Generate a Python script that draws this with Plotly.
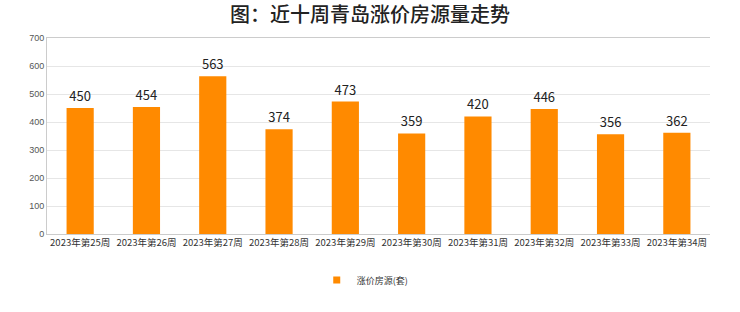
import plotly.graph_objects as go

weeks = ["2023年第25周", "2023年第26周", "2023年第27周", "2023年第28周", "2023年第29周",
         "2023年第30周", "2023年第31周", "2023年第32周", "2023年第33周", "2023年第34周"]
values = [450, 454, 563, 374, 473, 359, 420, 446, 356, 362]
series_name = "涨价房源(套)"
title = "图：近十周青岛涨价房源量走势"
bar_color = "#FF8A00"

fig = go.Figure()
fig.add_trace(go.Bar(
    x=weeks, y=values, name=series_name, showlegend=False,
    marker=dict(color=bar_color, line=dict(width=0)),
    width=0.41,
    text=[str(v) for v in values], textposition="outside",
    textfont=dict(size=13, color="#222222", family="Noto Sans CJK SC"),
    cliponaxis=False,
))
# legend entry with a small square symbol
fig.add_trace(go.Scatter(
    x=[None], y=[None], mode="markers", name=series_name,
    marker=dict(symbol="square", size=7, color=bar_color),
))

fig.update_layout(
    width=740, height=312,
    margin=dict(l=47, r=30, t=38, b=78),
    paper_bgcolor="white", plot_bgcolor="white",
    title=dict(text=title, x=0.5, xanchor="center", y=0.952, yanchor="middle",
               font=dict(size=20, color="#222222", family="Noto Sans CJK SC", weight=500)),
    showlegend=True,
    legend=dict(orientation="h", x=0.48, xanchor="center", y=-0.235, yanchor="middle",
                font=dict(size=9, color="#333333", family="Noto Sans CJK SC"),
                itemwidth=30),
    font=dict(family="Noto Sans CJK SC"),
)
fig.update_xaxes(
    showline=True, linecolor="#cccccc", linewidth=1, mirror=True,
    tickfont=dict(size=9.5, color="#333333", family="Noto Sans CJK SC"),
    ticks="", showgrid=False,
)
fig.update_yaxes(
    range=[0, 700], dtick=100, showgrid=True, gridcolor="#e6e6e6",
    showline=True, linecolor="#cccccc", linewidth=1,
    tickfont=dict(size=9, color="#555555", family="Liberation Sans"),
    ticks="", zeroline=False,
)
fig.write_html("out.html")
